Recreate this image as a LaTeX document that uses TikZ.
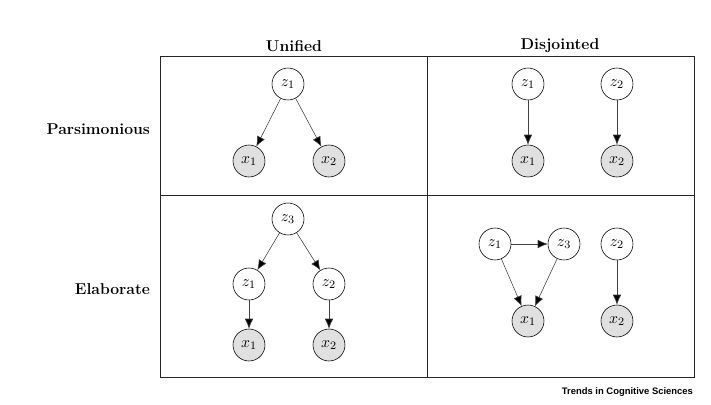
\documentclass[tikz,border=0pt]{standalone}
\usepackage{fontspec}
\newfontfamily\logofont{Liberation Sans}
\usetikzlibrary{arrows.meta}
\definecolor{obsGris}{HTML}{E0E0E0}
\tikzset{
  latente/.style={circle, draw, fill=white, minimum size=22.4pt, inner sep=0pt,
    font=\fontsize{11}{13}\selectfont},
  observada/.style={latente, fill=obsGris},
  flecha/.style={-{Latex[length=7pt,width=6pt,fill=black]}, draw=black!75}
}

\begin{document}
\begin{tikzpicture}[x=0.7pt, y=-0.7pt]
      \useasboundingbox (0,0) rectangle (711,405);
      % tabla
      \draw[black!85] (160,56) rectangle (694,377);
      \draw[black!85] (427,56) -- (427,377);
      \draw[black!85] (160,195) -- (694,195);
      \node[font=\bfseries\fontsize{11}{13}\selectfont] (colU) at (294,46) {Unified};
      \node[font=\bfseries\fontsize{11}{13}\selectfont] (colD) at (560,46) {Disjointed};
      \node[font=\bfseries\fontsize{11}{13}\selectfont, anchor=east] (filaP) at (155,129) {Parsimonious};
      \node[font=\bfseries\fontsize{11}{13}\selectfont, anchor=east] (filaE) at (155,289) {Elaborate};
      % unificado, parsimonioso
      \node[latente] (uz1) at (288,84) {$z_1$};
      \node[observada] (ux1) at (249,161) {$x_1$};
      \node[observada] (ux2) at (329,161) {$x_2$};
      \draw[flecha] (uz1) -- (ux1);
      \draw[flecha] (uz1) -- (ux2);
      % disjunto, parsimonioso
      \node[latente] (dz1) at (528,84) {$z_1$};
      \node[latente] (dz2) at (617,84) {$z_2$};
      \node[observada] (dx1) at (528,161) {$x_1$};
      \node[observada] (dx2) at (617,161) {$x_2$};
      \draw[flecha] (dz1) -- (dx1);
      \draw[flecha] (dz2) -- (dx2);
      % unificado, elaborado
      \node[latente] (ez3) at (288,219) {$z_3$};
      \node[latente] (ez1) at (249,284) {$z_1$};
      \node[latente] (ez2) at (329,284) {$z_2$};
      \node[observada] (ex1) at (249,345) {$x_1$};
      \node[observada] (ex2) at (329,345) {$x_2$};
      \draw[flecha] (ez3) -- (ez1);
      \draw[flecha] (ez3) -- (ez2);
      \draw[flecha] (ez1) -- (ex1);
      \draw[flecha] (ez2) -- (ex2);
      % disjunto, elaborado
      \node[latente] (fz1) at (495,244) {$z_1$};
      \node[latente] (fz3) at (564,244) {$z_3$};
      \node[latente] (fz2) at (617,244) {$z_2$};
      \node[observada] (fx1) at (528,321) {$x_1$};
      \node[observada] (fx2) at (617,321) {$x_2$};
      \draw[flecha] (fz1) -- (fz3);
      \draw[flecha] (fz1) -- (fx1);
      \draw[flecha] (fz3) -- (fx1);
      \draw[flecha] (fz2) -- (fx2);
      \node[font=\logofont\bfseries\fontsize{6.6}{7}\selectfont, anchor=east] (logo) at (698,392)
        {Trends in Cognitive Sciences};
    \end{tikzpicture}
\end{document}
